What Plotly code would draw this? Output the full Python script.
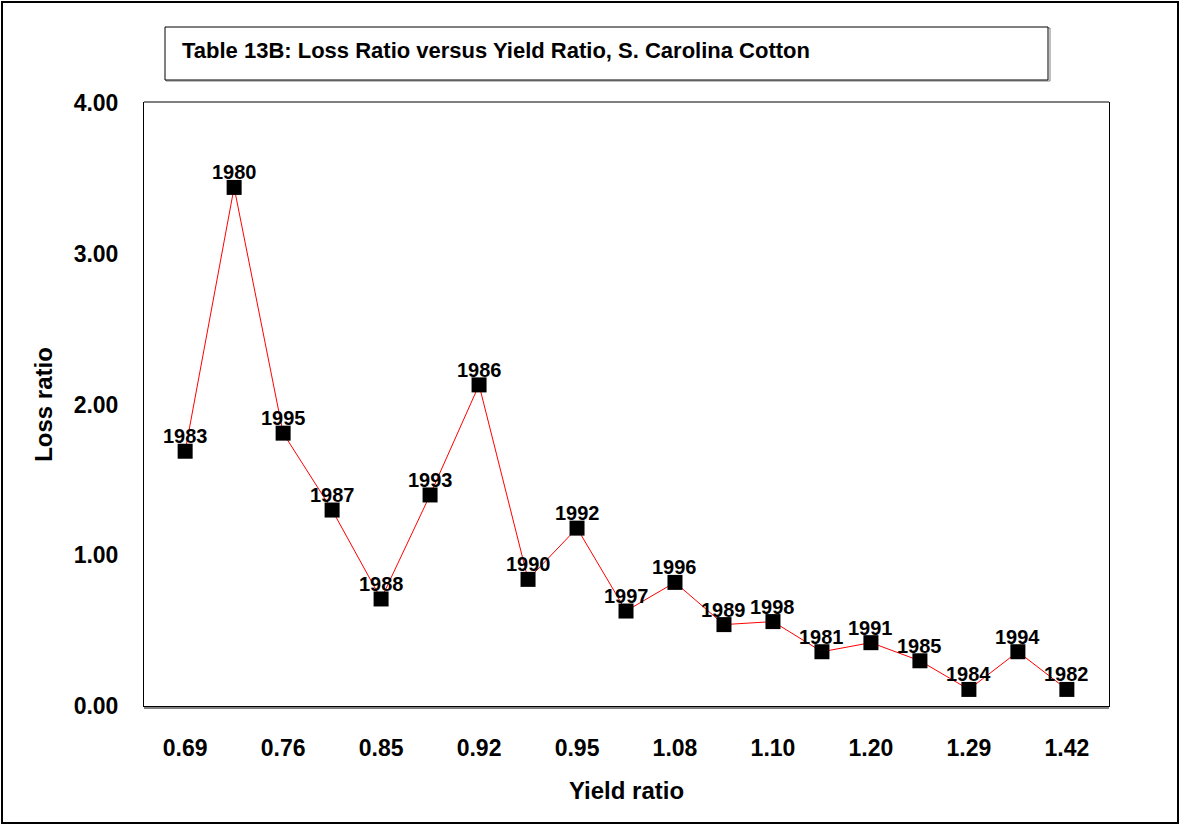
import plotly.graph_objects as go

# ---- data ----
years = ["1983", "1980", "1995", "1987", "1988", "1993", "1986", "1990", "1992", "1997",
         "1996", "1989", "1998", "1981", "1991", "1985", "1984", "1994", "1982"]
loss_ratio = [1.69, 3.44, 1.81, 1.30, 0.71, 1.40, 2.13, 0.84, 1.18, 0.63,
              0.82, 0.54, 0.56, 0.36, 0.42, 0.30, 0.11, 0.36, 0.11]
x_tick_labels = ["0.69", "0.76", "0.85", "0.92", "0.95", "1.08", "1.10", "1.20", "1.29", "1.42"]
y_tick_values = [0, 1, 2, 3, 4]
y_tick_labels = ["0.00", "1.00", "2.00", "3.00", "4.00"]

FONT = "Liberation Sans, Arial, sans-serif"
W, H = 1186, 825
ML, MR, MT, MB = 144, 77, 103, 119
PW, PH = W - ML - MR, H - MT - MB

def px(x):
    return (x - ML) / PW

def py(y):
    return (H - MB - y) / PH

idx = list(range(len(years)))

fig = go.Figure()
fig.add_trace(go.Scatter(
    x=idx, y=loss_ratio, mode="lines+markers",
    line=dict(color="#ff0000", width=1),
    marker=dict(symbol="square", size=15, color="black"),
    cliponaxis=False, showlegend=False,
))

point_labels = [
    dict(x=i, y=v, text="<b>%s</b>" % yr, showarrow=False, xanchor="center", yanchor="bottom",
         yshift=2, font=dict(family=FONT, size=20, color="black"))
    for i, v, yr in zip(idx, loss_ratio, years)
]

shapes = [
    # outer chart border
    dict(type="rect", xref="paper", yref="paper", x0=px(2), x1=px(1178), y0=py(823), y1=py(2),
         line=dict(color="black", width=2), layer="below"),
    # title box shadow + box
    dict(type="rect", xref="paper", yref="paper", x0=px(166), x1=px(1050), y0=py(81), y1=py(28),
         line=dict(color="#808080", width=1), layer="below"),
    dict(type="rect", xref="paper", yref="paper", x0=px(165), x1=px(1048), y0=py(80), y1=py(27),
         line=dict(color="black", width=1), fillcolor="white", layer="below"),
    # plot area shading lines
    dict(type="line", xref="paper", yref="paper", x0=px(144), x1=px(1109), y0=py(102), y1=py(102),
         line=dict(color="#808080", width=2)),
    dict(type="line", xref="paper", yref="paper", x0=px(144), x1=px(1109), y0=py(708), y1=py(708),
         line=dict(color="#808080", width=2)),
]

fig.update_layout(
    width=W, height=H,
    margin=dict(l=ML, r=MR, t=MT, b=MB),
    paper_bgcolor="white", plot_bgcolor="white",
    font=dict(family=FONT, color="black"),
    shapes=shapes,
    annotations=[dict(
        text="<b>Table 13B: Loss Ratio versus Yield Ratio, S. Carolina Cotton</b>",
        xref="paper", yref="paper", x=px(180), y=py(51), xanchor="left", yanchor="middle",
        showarrow=False, font=dict(family=FONT, size=22, color="black"))] + point_labels,
    xaxis=dict(
        range=[-0.84, len(years) - 1 + 0.86],
        tickvals=idx[::2], ticktext=x_tick_labels,
        tickfont=dict(family=FONT, size=23, color="black", weight="bold"),
        ticks="", ticklabelstandoff=21,
        showgrid=False, zeroline=False,
        showline=True, linecolor="black", linewidth=1, mirror=True,
        title=dict(text="<b>Yield ratio</b>", font=dict(family=FONT, size=24, color="black"), standoff=22),
    ),
    yaxis=dict(
        range=[0, 4],
        tickvals=y_tick_values, ticktext=y_tick_labels,
        tickfont=dict(family=FONT, size=23, color="black", weight="bold"),
        ticks="", ticklabelstandoff=20,
        showgrid=False, zeroline=False,
        showline=True, linecolor="black", linewidth=1, mirror=True,
        title=dict(text="<b>Loss ratio</b>", font=dict(family=FONT, size=24, color="black"), standoff=14),
    ),
)

fig.write_html("out.html", config={"displayModeBar": False},
               post_script="document.body.style.margin='0';")
